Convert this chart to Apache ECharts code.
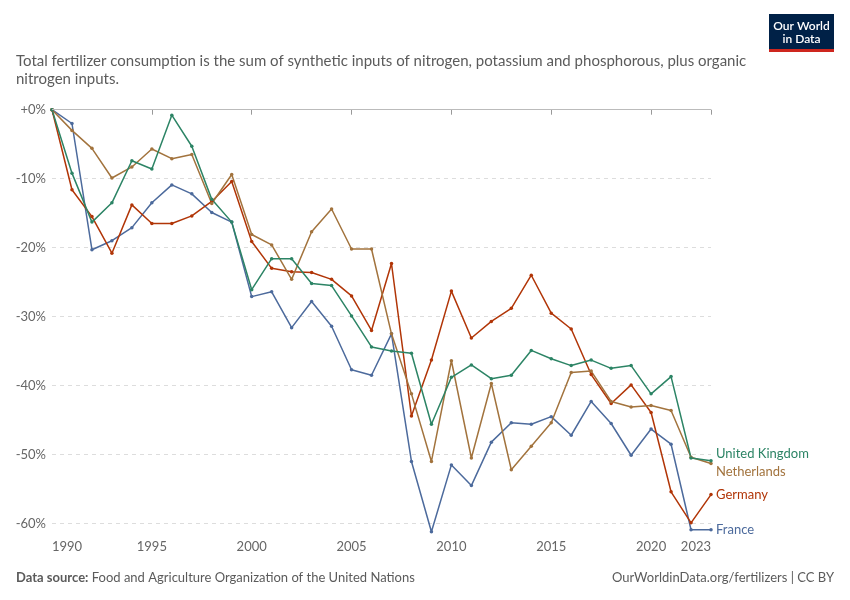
<!DOCTYPE html>
<html>
<head>
    <meta charset="utf-8">
    <title>Fertilizer consumption</title>
    <script src="https://cdn.jsdelivr.net/npm/echarts@6/dist/echarts.min.js"></script>
    <style>
        body { margin: 0; background: #fff; }
        #chart { width: 850px; height: 600px; }
    </style>
</head>
<body>
<div id="chart"></div>
<script type="text/javascript">
    // 数据
    var years = [1990, 1991, 1992, 1993, 1994, 1995, 1996, 1997, 1998, 1999,
        2000, 2001, 2002, 2003, 2004, 2005, 2006, 2007, 2008, 2009,
        2010, 2011, 2012, 2013, 2014, 2015, 2016, 2017, 2018, 2019,
        2020, 2021, 2022, 2023];
    var uk = [0, -9.2, -16.3, -13.5, -7.4, -8.6, -0.8, -5.3, -13.0, -16.3,
        -26.1, -21.6, -21.6, -25.2, -25.5, -29.9, -34.4, -35.0, -35.3, -45.6,
        -38.8, -37.0, -39.0, -38.5, -34.9, -36.1, -37.1, -36.3, -37.5, -37.1,
        -41.2, -38.7, -50.5, -50.9];
    var netherlands = [0, -3.0, -5.6, -9.9, -8.3, -5.7, -7.1, -6.5, -13.6, -9.4,
        -18.1, -19.6, -24.6, -17.7, -14.4, -20.2, -20.2, -32.5, -41.2, -51.0,
        -36.4, -50.5, -39.7, -52.2, -48.8, -45.4, -38.1, -37.9, -42.3, -43.1,
        -42.9, -43.6, -50.4, -51.3];
    var germany = [0, -11.6, -15.5, -20.8, -13.8, -16.5, -16.5, -15.4, -13.3, -10.4,
        -19.1, -23.0, -23.5, -23.6, -24.6, -27.0, -32.0, -22.3, -44.4, -36.3,
        -26.3, -33.1, -30.7, -28.8, -24.0, -29.5, -31.8, -38.4, -42.6, -39.9,
        -43.9, -55.4, -59.9, -55.8];
    var france = [0, -2.0, -20.3, -19.0, -17.1, -13.5, -10.9, -12.2, -14.9, -16.3,
        -27.1, -26.4, -31.6, -27.8, -31.4, -37.7, -38.5, -32.5, -51.0, -61.2,
        -51.5, -54.5, -48.2, -45.4, -45.6, -44.5, -47.2, -42.3, -45.5, -50.1,
        -46.3, -48.5, -60.9, -60.9];
    var xTicks = [1990, 1995, 2000, 2005, 2010, 2015, 2020, 2023];
    var yTicks = [0, -10, -20, -30, -40, -50, -60];

    var font = 'Lato, "Noto Sans", sans-serif';

    function pairs(arr) {
        return arr.map(function (v, i) { return [years[i], v]; });
    }

    function makeSeries(name, arr, color, dy) {
        return {
            name: name,
            type: 'line',
            data: pairs(arr),
            symbol: 'circle',
            symbolSize: 3.5,
            clip: false,
            lineStyle: { width: 1.5, color: color },
            itemStyle: { color: color },
            emphasis: { disabled: true },
            endLabel: {
                show: true,
                formatter: '{a}',
                color: color,
                fontFamily: font,
                fontSize: 13,
                distance: 5,
                offset: [0, dy]
            }
        };
    }

    var myChart = echarts.init(document.getElementById('chart'));

    var series = [
        makeSeries('France', france, '#4c6a9c', 0),
        makeSeries('Germany', germany, '#b13507', 0),
        makeSeries('Netherlands', netherlands, '#a2733d', 8),
        makeSeries('United Kingdom', uk, '#2c8465', -7)
    ];
    // 0% 实线
    series[0].markLine = {
        silent: true,
        symbol: 'none',
        label: { show: false },
        lineStyle: { color: '#bbbbbb', type: 'solid', width: 1.2 },
        data: [{ yAxis: 0 }]
    };

    myChart.setOption({
        animation: false,
        textStyle: { fontFamily: font },
        title: [{
            text: 'Total fertilizer consumption is the sum of synthetic inputs of nitrogen, potassium and phosphorous, plus organic\nnitrogen inputs.',
            left: 11,
            top: 47,
            textStyle: { fontSize: 15, fontWeight: 'normal', color: '#5b5b5b', lineHeight: 18, fontFamily: font }
        }, {
            text: '{b|Data source:} Food and Agriculture Organization of the United Nations',
            left: 11,
            top: 566,
            textStyle: {
                fontSize: 13, fontWeight: 'normal', color: '#5b5b5b', fontFamily: font,
                rich: { b: { fontWeight: 'bold', fontSize: 13, color: '#5b5b5b', fontFamily: font } }
            }
        }, {
            text: 'OurWorldinData.org/fertilizers | CC BY',
            right: 11,
            top: 566,
            textStyle: { fontSize: 13, fontWeight: 'normal', color: '#5b5b5b', fontFamily: font }
        }],
        graphic: [{
            type: 'group',
            left: 769,
            top: 14,
            children: [{
                type: 'rect',
                shape: { x: 0, y: 0, width: 65, height: 35 },
                style: { fill: '#002147' }
            }, {
                type: 'rect',
                shape: { x: 0, y: 35, width: 65, height: 3 },
                style: { fill: '#ce261e' }
            }, {
                type: 'text',
                x: 32.5, y: 12,
                style: { text: 'Our World', fill: '#fff', font: '600 12px ' + font, align: 'center', verticalAlign: 'middle' }
            }, {
                type: 'text',
                x: 32.5, y: 25,
                style: { text: 'in Data', fill: '#fff', font: '600 12px ' + font, align: 'center', verticalAlign: 'middle' }
            }]
        }],
        grid: { left: 52, right: 139, top: 109.7, bottom: 67.5 },
        xAxis: {
            type: 'value',
            min: 1990,
            max: 2023,
            axisLine: { show: false },
            axisTick: { show: true, length: 5, customValues: xTicks, lineStyle: { color: '#999' } },
            splitLine: { show: false },
            axisLabel: {
                customValues: xTicks,
                color: '#666',
                fontSize: 13,
                margin: 8,
                fontFamily: font,
                alignMinLabel: 'left',
                alignMaxLabel: 'right',
                formatter: function (v) { return String(v); }
            }
        },
        yAxis: {
            type: 'value',
            min: -61.3,
            max: 0,
            axisLine: { show: false },
            axisTick: { show: false, customValues: yTicks },
            splitLine: { show: true, lineStyle: { color: '#dddddd', type: [4, 4], width: 1 } },
            axisLabel: {
                customValues: yTicks,
                color: '#666',
                fontSize: 13,
                margin: 6,
                fontFamily: font,
                formatter: function (v) { return (v === 0 ? '+0' : v) + '%'; }
            }
        },
        series: series
    });
</script>
</body>
</html>
